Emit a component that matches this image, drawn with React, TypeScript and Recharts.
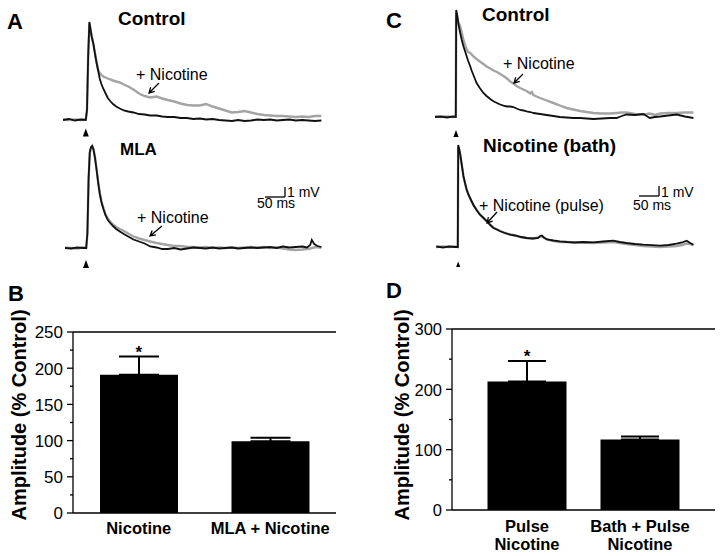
import {
  LineChart, Line, XAxis, YAxis, ReferenceDot, ReferenceLine,
  BarChart, Bar, ErrorBar,
} from 'recharts'

const FONT = '"Liberation Sans", Arial, Helvetica, sans-serif'

// ---- traces: time in ms, potential in mV ----

// A, control slice: control vs + nicotine
const aTime = [0, 15, 30, 45, 57, 60, 63, 66, 69, 72, 76, 80, 84, 88, 92, 96, 101, 106, 112, 118, 125, 133, 142, 152, 163, 176, 190, 204, 218, 234, 248, 262, 278, 294, 310, 326, 342, 358, 374, 390, 406, 422, 438, 454, 470, 486, 502, 518, 534, 550, 566, 582, 598, 614, 630, 646]
const aControl = [0, 0.1, -0.05, 0.05, 0, 1.0, 6.5, 9.8, 9.0, 8.3, 7.6, 6.6, 5.7, 4.9, 4.1, 3.6, 3.1, 2.7, 2.2, 1.9, 1.6, 1.35, 1.15, 0.95, 0.85, 0.75, 0.6, 0.55, 0.45, 0.45, 0.35, 0.3, 0.3, 0.2, 0.2, 0.1, 0.15, 0.05, 0.1, 0, -0.05, -0.1, 0, -0.1, -0.05, 0.05, 0, 0.05, -0.05, 0, 0.05, -0.05, 0, -0.05, -0.1, -0.05]
const aNicotine = [0.05, 0, 0.05, 0, 0.05, 1.0, 6.4, 9.7, 9.0, 8.3, 7.6, 6.7, 5.8, 5.0, 4.7, 4.5, 4.35, 4.25, 4.15, 4.05, 3.95, 3.85, 3.75, 3.55, 3.35, 3.05, 2.65, 2.4, 2.25, 2.35, 2.15, 2.0, 1.85, 1.65, 1.5, 1.45, 1.45, 1.6, 1.35, 1.15, 0.95, 0.75, 0.8, 0.9, 0.75, 0.6, 0.5, 0.45, 0.4, 0.4, 0.35, 0.3, 0.35, 0.3, 0.4, 0.4]

// A, MLA slice
const mlaTime = [5, 20, 35, 50, 58, 61, 64, 67, 70, 73, 76, 80, 84, 88, 92, 96, 101, 106, 112, 118, 125, 133, 142, 152, 163, 176, 190, 204, 218, 234, 248, 262, 278, 294, 310, 326, 342, 358, 374, 390, 406, 422, 438, 454, 470, 486, 502, 518, 534, 550, 566, 582, 598, 610, 618, 622, 628, 636, 646]
const mlaControl = [0, -0.05, 0.05, 0, 0, 1.5, 7.0, 9.6, 10.1, 10.2, 9.9, 9.0, 7.8, 6.5, 5.4, 4.6, 3.9, 3.3, 2.8, 2.5, 2.2, 1.9, 1.65, 1.4, 1.15, 0.85, 0.65, 0.45, 0.15, 0.05, -0.1, -0.1, 0, -0.15, -0.05, 0.05, 0, -0.05, 0.05, -0.05, 0, 0.05, -0.05, 0, 0.05, 0, 0.05, 0.1, 0, 0.15, 0.05, 0.1, 0.15, 0.05, 0.3, 0.8, 0.4, 0.2, 0.1]
const mlaNicotine = [0.05, 0, -0.05, 0.05, 0, 1.4, 6.8, 9.5, 10.0, 10.2, 9.9, 9.1, 7.9, 6.6, 5.5, 4.7, 4.0, 3.4, 2.95, 2.65, 2.35, 2.1, 1.9, 1.7, 1.45, 1.15, 0.95, 0.8, 0.65, 0.5, 0.4, 0.3, 0.2, 0.2, 0.1, 0.1, 0.05, 0.1, 0, 0.05, 0, 0.05, 0, 0.05, 0.1, 0.05, 0.1, 0, 0.05, -0.05, -0.15, -0.2, -0.15, -0.1, -0.05, 0, 0.05, 0.1, 0]

// C, control slice
const cTime = [0, 15, 30, 45, 52, 53, 56, 59, 63, 67, 71, 75, 79, 83, 88, 92, 96, 104, 112, 121, 129, 138, 146, 155, 163, 171, 180, 188, 196, 204, 213, 221, 229, 238, 242, 246, 254, 263, 279, 296, 312, 329, 346, 363, 379, 396, 417, 438, 454, 467, 479, 500, 521, 537, 550, 563, 583, 604, 625, 646]
const cControl = [0, 0.05, -0.05, 0.05, 0, 10.7, 10.1, 9.2, 8.4, 7.7, 7.07, 6.6, 6.1, 5.6, 5.07, 4.6, 4.2, 3.4, 2.9, 2.4, 2.1, 1.8, 1.57, 1.4, 1.25, 1.13, 1.05, 1.05, 1.0, 0.85, 0.7, 0.65, 0.57, 0.5, 0.45, 0.4, 0.35, 0.3, 0.2, 0.1, 0, -0.05, -0.1, -0.1, -0.15, -0.2, -0.15, -0.1, -0.1, 0.1, 0.25, 0.2, 0.3, -0.1, 0, 0.05, 0.15, 0.25, 0.05, -0.1]
const cNicotine = [0.05, 0, 0.05, 0, 0.05, 10.4, 9.8, 9.4, 9.05, 8.4, 7.75, 7.2, 6.75, 6.5, 6.4, 6.25, 6.05, 5.8, 5.55, 5.3, 5.05, 4.85, 4.65, 4.5, 4.3, 4.1, 3.85, 3.55, 3.35, 3.1, 2.9, 2.75, 2.6, 2.35, 2.5, 2.2, 2.05, 1.9, 1.65, 1.4, 1.15, 0.9, 0.75, 0.6, 0.5, 0.4, 0.35, 0.35, 0.4, 0.45, 0.45, 0.3, 0.25, 0.35, 0.2, 0.35, 0.4, 0.4, 0.45, 0.45]

// C, nicotine in bath: bath alone vs + pulse
const bathTime = [3, 20, 35, 50, 57, 58, 60, 63, 67, 71, 75, 79, 84, 90, 96, 104, 112, 120, 129, 138, 146, 155, 163, 175, 188, 200, 215, 229, 245, 258, 263, 267, 272, 280, 296, 312, 330, 350, 370, 396, 420, 446, 462, 479, 500, 521, 542, 563, 584, 604, 618, 629, 638, 646]
const bathControl = [0.05, -0.05, 0.05, 0, 0, 10.2, 9.9, 9.3, 8.2, 7.1, 6.4, 5.75, 5.2, 4.7, 4.2, 3.7, 3.25, 2.95, 2.6, 2.2, 1.9, 1.75, 1.57, 1.4, 1.23, 1.15, 1.0, 0.9, 0.85, 0.9, 1.1, 1.15, 0.95, 0.75, 0.65, 0.57, 0.5, 0.45, 0.5, 0.47, 0.55, 0.63, 0.5, 0.4, 0.3, 0.23, 0.18, 0.13, 0.2, 0.33, 0.45, 0.63, 0.4, 0.23]
const bathPulse = [0, 0.05, 0, 0.05, 0, 10.0, 9.8, 9.2, 8.2, 7.1, 6.4, 5.75, 5.2, 4.7, 4.2, 3.7, 3.25, 2.95, 2.6, 2.25, 1.95, 1.75, 1.6, 1.4, 1.25, 1.15, 1.0, 0.9, 0.85, 0.95, 1.05, 1.1, 0.95, 0.75, 0.6, 0.5, 0.5, 0.45, 0.45, 0.4, 0.45, 0.5, 0.4, 0.3, 0.2, 0.1, 0.05, 0, 0.05, 0.1, 0.2, 0.35, 0.3, 0.2]

// ---- summary bars (% of control) ----
const bCategories = ['Nicotine', 'MLA + Nicotine']
const bMeans = [191, 99]
const bErrors = [25, 5]
const bSig = ['*', '']
const bTicks = [0, 25, 50, 75, 100, 125, 150, 175, 200, 225, 250]

const dCategories = ['Pulse\nNicotine', 'Bath + Pulse\nNicotine']
const dMeans = [213, 117]
const dErrors = [34, 5]
const dSig = ['*', '']
const dTicks = [0, 50, 100, 150, 200, 250, 300]

const GRAY = '#a4a4a4'

function Stim(p: any) {
  return <path d={`M${p.cx},${p.cy} l3,8 l-6,0 z`} fill="#000" />
}

function TracePair({
  time, control, drug, left, top, stimT, stimV, scaleAt,
}: {
  time: number[]; control: number[]; drug: number[]
  left: number; top: number; stimT: number; stimV: number
  scaleAt?: { t: number; v: number }
}) {
  const rows = time.map((t, i) => ({ t, control: control[i], drug: drug[i] }))
  return (
    <div style={{ position: 'absolute', left, top }}>
      <LineChart width={260} height={130} data={rows} margin={{ top: 0, right: 0, bottom: 0, left: 0 }}>
        <XAxis dataKey="t" type="number" domain={[0, 650]} hide />
        <YAxis type="number" domain={[-2, 11]} hide allowDataOverflow />
        <Line type="linear" dataKey="drug" stroke={GRAY} strokeWidth={2.4} dot={false} isAnimationActive={false} />
        <Line type="linear" dataKey="control" stroke="#111" strokeWidth={1.8} dot={false} isAnimationActive={false} />
        <ReferenceDot x={stimT} y={stimV} r={0} shape={Stim} ifOverflow="visible" />
        {scaleAt && (
          <ReferenceLine
            segment={[{ x: scaleAt.t, y: scaleAt.v }, { x: scaleAt.t + 50, y: scaleAt.v }]}
            stroke="#000" strokeWidth={1.3} ifOverflow="visible"
          />
        )}
        {scaleAt && (
          <ReferenceLine
            segment={[{ x: scaleAt.t + 50, y: scaleAt.v }, { x: scaleAt.t + 50, y: scaleAt.v + 1 }]}
            stroke="#000" strokeWidth={1.3} ifOverflow="visible"
          />
        )}
      </LineChart>
    </div>
  )
}

const makeYTick = (major: number, fs: number) => (p: any) => {
  const v = p.payload.value
  const isMajor = v % major === 0
  return (
    <g>
      <line x1={p.x - (isMajor ? 6 : 3)} x2={p.x} y1={p.y} y2={p.y} stroke="#000" strokeWidth={1.3} />
      {isMajor && (
        <text x={p.x - 10} y={p.y} dy="0.38em" textAnchor="end" fontSize={fs} fontFamily={FONT} fill="#000">
          {v}
        </text>
      )}
    </g>
  )
}

const makeXTick = (gap: number) => (p: any) => {
  const lines = String(p.payload.value).split('\n')
  return (
    <text x={p.x} y={p.y + gap} textAnchor="middle" fontSize={16.5} fontWeight="bold" fontFamily={FONT} fill="#000">
      {lines.map((l, i) => (
        <tspan key={i} x={p.x} dy={i === 0 ? '0.71em' : 18.5}>{l}</tspan>
      ))}
    </text>
  )
}

function AmpBars({
  cats, means, errs, sig, ticks, major, max, left, width, marginTop, marginRight, axisWidth,
  xHeight, pad, barSize, cap, tickFs, labelGap,
}: {
  cats: string[]; means: number[]; errs: number[]; sig: string[]; ticks: number[]
  major: number; max: number; left: number; width: number; marginTop: number
  marginRight: number; axisWidth: number; xHeight: number; pad: number
  barSize: number; cap: number; tickFs: number; labelGap: number
}) {
  const rows = cats.map((c, i) => ({ cat: c, mean: means[i], err: [0, errs[i]] }))
  const ax = { stroke: '#000', strokeWidth: 1.3 }
  return (
    <div style={{ position: 'absolute', left, top: 300 }}>
      <BarChart
        width={width} height={256} data={rows}
        margin={{ top: marginTop, right: marginRight, bottom: 0, left: 0 }}
      >
        <XAxis
          dataKey="cat" height={xHeight} padding={{ left: pad, right: pad }}
          tickLine={false} tickSize={0} tickMargin={0} axisLine={ax}
          tick={makeXTick(labelGap)} interval={0}
        />
        <YAxis
          type="number" domain={[0, max]} ticks={ticks} width={axisWidth}
          tickLine={false} tickSize={0} tickMargin={0} axisLine={ax}
          tick={makeYTick(major, tickFs)} interval={0}
        />
        <YAxis
          yAxisId="box" orientation="right" type="number" domain={[0, max]} width={0}
          tick={false} tickLine={false} axisLine={ax}
        />
        <ReferenceLine y={max} stroke="#000" strokeWidth={1.3} />
        <Bar dataKey="mean" fill="#000" barSize={barSize} isAnimationActive={false}>
          <ErrorBar dataKey="err" width={cap} stroke="#000" strokeWidth={2} direction="y" />
        </Bar>
        {cats.map((c, i) => sig[i] ? (
          <ReferenceDot
            key={c} x={c} y={means[i] + errs[i]} r={0} fill="none" stroke="none"
            label={{ value: sig[i], position: 'top', offset: -1, fontSize: 17, fontWeight: 'bold', fontFamily: FONT, fill: '#000' }}
          />
        ) : null)}
      </BarChart>
    </div>
  )
}

function Arrow({ x1, y1, x2, y2 }: { x1: number; y1: number; x2: number; y2: number }) {
  const a = Math.atan2(y2 - y1, x2 - x1)
  const w = 6
  const p1 = [x2 - w * Math.cos(a - 0.5), y2 - w * Math.sin(a - 0.5)]
  const p2 = [x2 - w * Math.cos(a + 0.5), y2 - w * Math.sin(a + 0.5)]
  return (
    <path
      d={`M${x1},${y1} L${x2},${y2} M${p1[0]},${p1[1]} L${x2},${y2} L${p2[0]},${p2[1]}`}
      stroke="#000" strokeWidth={1.3} fill="none"
    />
  )
}

export default function App() {
  const t = (x: number, y: number, s: string, fs: number, bold = false) => (
    <text x={x} y={y} fontSize={fs} fontWeight={bold ? 'bold' : 'normal'} fontFamily={FONT} fill="#000">{s}</text>
  )
  return (
    <div style={{ position: 'absolute', left: 0, top: 0, width: 720, height: 556, background: '#fff', overflow: 'hidden' }}>
      <TracePair time={aTime} control={aControl} drug={aNicotine} left={63} top={10} stimT={57} stimV={-0.85} />
      <TracePair
        time={mlaTime} control={mlaControl} drug={mlaNicotine} left={63} top={138}
        stimT={57.5} stimV={-1.2} scaleAt={{ t: 505, v: 5.1 }}
      />
      <TracePair time={cTime} control={cControl} drug={cNicotine} left={435} top={7} stimT={52.5} stimV={-1.3} />
      <TracePair
        time={bathTime} control={bathControl} drug={bathPulse} left={435} top={137}
        stimT={58} stimV={-1.45} scaleAt={{ t: 510, v: 5.1 }}
      />

      <AmpBars
        cats={bCategories} means={bMeans} errs={bErrors} sig={bSig} ticks={bTicks} major={50} max={250}
        left={0} width={350} marginTop={32} marginRight={14} axisWidth={73} xHeight={43} pad={0}
        barSize={78} cap={20} tickFs={17} labelGap={9}
      />
      <AmpBars
        cats={dCategories} means={dMeans} errs={dErrors} sig={dSig} ticks={dTicks} major={100} max={300}
        left={360} width={360} marginTop={29} marginRight={5} axisWidth={92} xHeight={46} pad={18.5}
        barSize={79} cap={19} tickFs={16.5} labelGap={10}
      />

      <svg width={720} height={556} style={{ position: 'absolute', left: 0, top: 0, pointerEvents: 'none' }}>
        {t(7, 29, 'A', 22, true)}
        {t(386, 28, 'C', 22, true)}
        {t(8, 301, 'B', 22, true)}
        {t(386, 298, 'D', 22, true)}
        {t(118, 25, 'Control', 19, true)}
        {t(482, 21, 'Control', 19, true)}
        {t(120, 155, 'MLA', 17, true)}
        {t(483, 152, 'Nicotine (bath)', 19, true)}
        {t(136, 80, '+ Nicotine', 16)}
        {t(137, 223, '+ Nicotine', 16)}
        {t(503, 69, '+ Nicotine', 16)}
        {t(479, 211, '+ Nicotine (pulse)', 16)}
        {t(287, 197, '1 mV', 14)}
        {t(257, 208, '50 ms', 14)}
        {t(661, 197, '1 mV', 14)}
        {t(633, 210, '50 ms', 14)}
        <Arrow x1={159} y1={83} x2={149} y2={93} />
        <Arrow x1={162} y1={226} x2={150} y2={236} />
        <Arrow x1={523} y1={74} x2={514} y2={83} />
        <Arrow x1={497} y1={212} x2={487} y2={223} />
        <text
          x={19} y={415} transform="rotate(-90 19 415)" textAnchor="middle" dominantBaseline="central"
          fontSize={20} fontWeight="bold" fontFamily={FONT} fill="#000"
        >
          Amplitude (% Control)
        </text>
        <text
          x={402} y={415} transform="rotate(-90 402 415)" textAnchor="middle" dominantBaseline="central"
          fontSize={20} fontWeight="bold" fontFamily={FONT} fill="#000"
        >
          Amplitude (% Control)
        </text>
      </svg>
    </div>
  )
}
